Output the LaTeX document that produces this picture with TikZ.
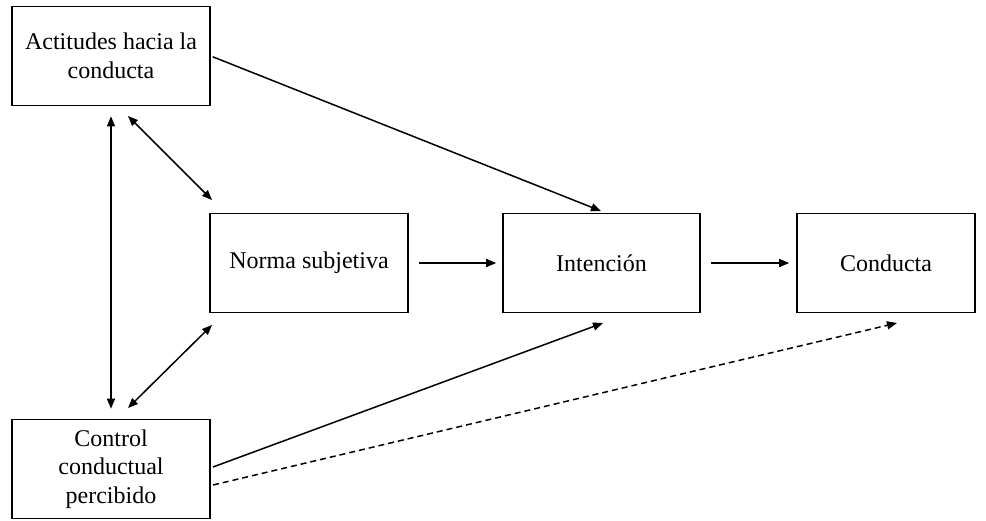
\documentclass[tikz,border=0pt]{standalone}
\usepackage{fontspec}
\setmainfont{Liberation Serif}
\usepackage{tikz}
\usetikzlibrary{arrows.meta}

\begin{document}
\begin{tikzpicture}[x=1pt,y=-1pt,
        box/.style={draw,line width=1.6pt,inner sep=0pt,align=center,
            minimum height=99pt,font=\fontsize{24}{28.5}\selectfont},
        arr/.style={line width=1.5pt,-{Triangle[length=10pt,width=8pt]}},
        darr/.style={line width=1.5pt,{Triangle[length=10pt,width=8pt]}-{Triangle[length=10pt,width=8pt]}}]
        \useasboundingbox (0,0) rectangle (986,520);
        \node[box,minimum width=198pt] (act) at (111,56) {Actitudes hacia la\\conducta};
        \node[box,minimum width=198pt] (norma) at (309,263) {Norma subjetiva};
        \node[box,minimum width=197pt] (int) at (601.5,263) {Intención};
        \node[box,minimum width=178pt] (cond) at (886,263) {Conducta};
        \node[box,minimum width=198pt] (ctrl) at (111,469) {Control\\conductual\\percibido};
        \coordinate (a1) at (128,116);
        \coordinate (a2) at (212,200);
        \coordinate (b1) at (128,408);
        \coordinate (b2) at (212,325);
        \coordinate (i1) at (601,211);
        \coordinate (i2) at (603,323);
        \coordinate (k1) at (213,467);
        \coordinate (k2) at (213,485);
        \coordinate (k3) at (897,323);
        \draw[arr,shorten <=2pt] (act.east) -- (i1);
        \draw[arr,shorten <=10pt,shorten >=6pt] (norma.east) -- (int.west);
        \draw[arr,shorten <=10pt,shorten >=7pt] (int.east) -- (cond.west);
        \draw[darr,shorten <=10pt,shorten >=10pt] (act.south) -- (ctrl.north);
        \draw[darr] (a1) -- (a2);
        \draw[darr] (b1) -- (b2);
        \draw[arr] (k1) -- (i2);
        \draw[arr,dash pattern=on 6pt off 4pt] (k2) -- (k3);
    \end{tikzpicture}
\end{document}
